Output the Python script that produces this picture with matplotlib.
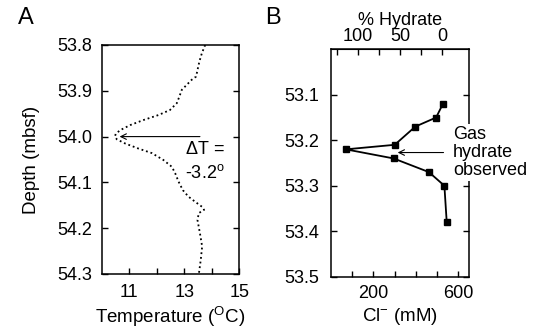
import matplotlib
matplotlib.use('Agg')
import matplotlib.pyplot as plt

plt.rcParams['font.family'] = ['Liberation Sans', 'DejaVu Sans']
plt.rcParams['mathtext.fontset'] = 'custom'
plt.rcParams['mathtext.rm'] = 'Liberation Sans'
plt.rcParams['mathtext.it'] = 'Liberation Sans'

# panel A: temperature profile
depth_a = [53.800, 53.818, 53.836, 53.855, 53.869, 53.876, 53.887, 53.898, 53.913,
           53.927, 53.942, 53.953, 53.964, 53.975, 53.986, 53.994, 54.000, 54.006,
           54.015, 54.026, 54.036, 54.051, 54.066, 54.080, 54.098, 54.117, 54.131,
           54.142, 54.153, 54.160, 54.167, 54.182, 54.211, 54.240, 54.269, 54.300]
temp_a = [13.76, 13.64, 13.55, 13.48, 13.43, 13.27, 13.09, 12.91, 12.82,
          12.73, 12.48, 12.06, 11.51, 11.03, 10.67, 10.51, 10.48, 10.55,
          10.85, 11.33, 11.82, 12.24, 12.55, 12.67, 12.79, 12.95, 13.15,
          13.39, 13.64, 13.72, 13.53, 13.48, 13.57, 13.65, 13.60, 13.53]
a_yticks = [53.8, 53.9, 54.0, 54.1, 54.2, 54.3]
a_xticks = [11, 12, 13, 14, 15]
a_xlabels = ['11', '', '13', '', '15']

# panel B: chloride profile
depth_b = [53.12, 53.15, 53.17, 53.21, 53.22, 53.24, 53.27, 53.30, 53.38]
cl_b = [527, 495, 397, 300, 70, 295, 461, 534, 545]
b_yticks = [53.1, 53.2, 53.3, 53.4, 53.5]
b_xticks = [100, 200, 300, 400, 500, 600]
b_xlabels = ['', '200', '', '', '', '600']
hyd_ticks = [0, 25, 50, 75, 100, 125]
hyd_labels = ['0', '', '50', '', '100', '']


def cl_to_hyd(cl):
    return (525 - cl) / 3.97


def hyd_to_cl(h):
    return 525 - 3.97 * h


fig = plt.figure(figsize=(5.37, 3.32), dpi=100)
ax_a = fig.add_axes([0.1894, 0.1747, 0.2562, 0.6898])
ax_b = fig.add_axes([0.6164, 0.1666, 0.2570, 0.6849])

for ax in (ax_a, ax_b):
    for s in ax.spines.values():
        s.set_linewidth(1.1)
    ax.tick_params(direction='in', length=4, width=1, labelsize=13,
                   right=True)
    ax.tick_params(axis='x', pad=7)
ax_a.tick_params(axis='y', pad=7)
ax_b.tick_params(axis='y', pad=8.5)
ax_b.tick_params(axis='x', pad=6)

# A
ax_a.plot(temp_a, depth_a, color='black', lw=1.3, ls=(0, (1, 1.6)))
ax_a.set_xlim(10, 15)
ax_a.set_ylim(54.3, 53.8)
ax_a.set_yticks(a_yticks)
ax_a.set_yticklabels([f'{v:.1f}' for v in a_yticks])
ax_a.set_xticks(a_xticks)
ax_a.set_xticklabels(a_xlabels)
ax_a.set_xlabel('Temperature ($^{\\rm O}$C)', fontsize=13.5, labelpad=3)
ax_a.set_ylabel('Depth (mbsf)', fontsize=13.5, labelpad=12)
ax_a.annotate('', xy=(10.65, 54.0), xytext=(13.57, 54.0),
              arrowprops=dict(arrowstyle='->', color='black', lw=0.8,
                              shrinkA=0, shrinkB=0))
ax_a.text(13.03, 54.029, '$\\Delta$T =', fontsize=13, va='center', ha='left')
ax_a.text(13.03, 54.079, '-3.2$^{\\rm o}$', fontsize=13, va='center', ha='left')
fig.text(25.5 / 537, 1 - 18.5 / 332, 'A', fontsize=17, va='center', ha='center')

# B
ax_b.plot(cl_b, depth_b, color='black', lw=1.3, marker='s', ms=4)
ax_b.set_xlim(0, 650)
ax_b.set_ylim(53.5, 53.0)
ax_b.set_yticks(b_yticks)
ax_b.set_yticklabels([f'{v:.1f}' for v in b_yticks])
ax_b.set_xticks(b_xticks)
ax_b.set_xticklabels(b_xlabels)
ax_b.set_xlabel('Cl$^{-}$ (mM)', fontsize=13.5, labelpad=3)
top = ax_b.secondary_xaxis('top', functions=(cl_to_hyd, hyd_to_cl))
top.set_xticks(hyd_ticks)
top.set_xticklabels(hyd_labels)
top.tick_params(direction='in', length=4, width=1, labelsize=13, pad=3)
top.set_xlabel('% Hydrate', fontsize=13, labelpad=2)
ax_b.annotate('', xy=(314, 53.227), xytext=(530, 53.227),
              arrowprops=dict(arrowstyle='->', color='black', lw=0.8,
                              shrinkA=0, shrinkB=0))
ax_b.text(574, 53.227, 'Gas\nhydrate\nobserved', fontsize=13, va='center',
          ha='left', linespacing=1.1, clip_on=False,
          bbox=dict(facecolor='white', edgecolor='none', pad=1))
fig.text(273 / 537, 1 - 18 / 332, 'B', fontsize=17, va='center', ha='center')

fig.savefig('out.png', dpi=100)
